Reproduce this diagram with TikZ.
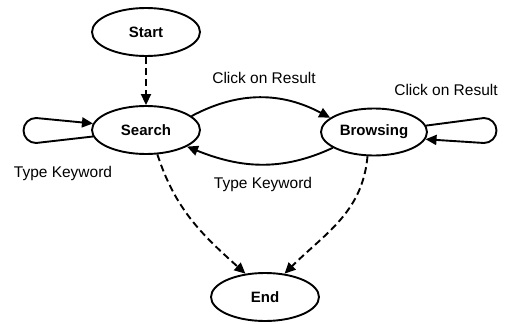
\documentclass[tikz,border=0pt]{standalone}
\usepackage{fontspec}
\setmainfont{Liberation Sans}
\usetikzlibrary{shapes.geometric,arrows.meta}
\begin{document}
\begin{tikzpicture}[x=1pt,y=1pt,
  state/.style={ellipse,draw,line width=1.9pt,minimum width=108pt,minimum height=48pt,inner sep=0pt,font=\fontsize{15}{17}\selectfont\bfseries},
  lbl/.style={font=\fontsize{15.5}{18}\selectfont,inner sep=0pt},
  edge/.style={line width=1.9pt,-{Triangle[length=11pt,width=10pt]}},
  dedge/.style={edge,dash pattern=on 7pt off 4pt}]
\useasboundingbox (0,0) rectangle (507,-324);
\node[state] (start) at (146,-32) {Start};
\node[state] (search) at (146,-130) {Search};
\node[state,minimum width=106pt,minimum height=47pt] (browse) at (374,-132) {Browsing};
\node[state] (end) at (265,-297) {End};

\node[lbl] (l1) at (264,-78) {Click on Result};
\node[lbl] (l2) at (446,-90) {Click on Result};
\node[lbl] (l3) at (63,-173) {Type Keyword};
\node[lbl] (l4) at (263,-184) {Type Keyword};

\draw[dedge] (start.south) -- (search.north);
\draw[edge] (search.17) to[out=28,in=152] (browse.162);
\draw[edge] (browse.201) to[out=205,in=-22] (search.338);

\coordinate (sa) at (36,-143);
\coordinate (sb) at (36,-118);
\draw[edge] (search.187) -- (sa) arc[start angle=270,end angle=90,radius=12.5] -- (search.173);
\coordinate (ba) at (484,-118);
\coordinate (bb) at (484,-143);
\draw[edge] (browse.7) -- (ba) arc[start angle=90,end angle=-90,radius=12.5] -- (browse.-8);

\draw[dedge] (search.-65) to[out=-72,in=138] (end.130);
\draw[dedge] (browse.-105) to[out=-95,in=45] (end.50);
\end{tikzpicture}
\end{document}
